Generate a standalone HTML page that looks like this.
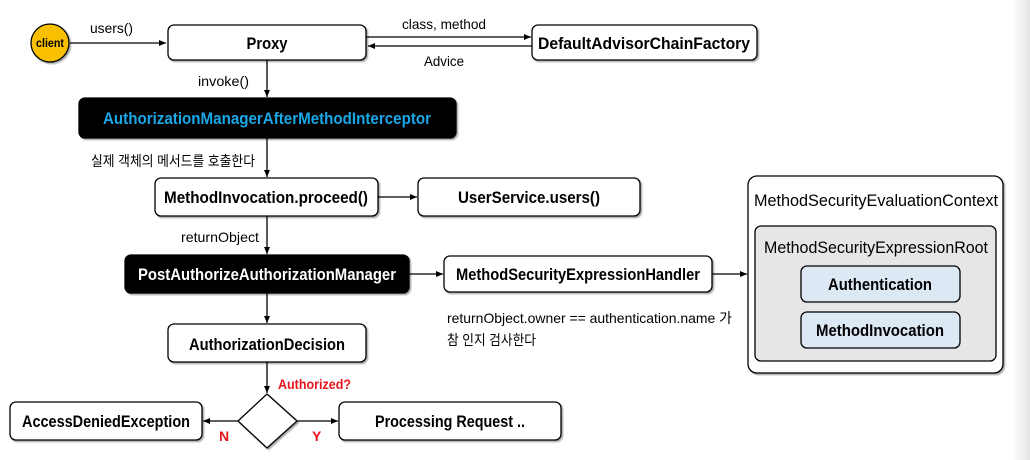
<!DOCTYPE html>
<html><head><meta charset="utf-8"><style>
html,body{margin:0;padding:0;background:#fff;width:1030px;height:460px;overflow:hidden}
text{font-family:"Liberation Sans","Noto Sans CJK KR",sans-serif}
</style></head><body>
<svg width="1030" height="460" viewBox="0 0 1030 460" xmlns="http://www.w3.org/2000/svg">
<defs>
<linearGradient id="edge" x1="0" x2="1"><stop offset="0" stop-color="#fff"/><stop offset="1" stop-color="#e4e4e4"/></linearGradient>
<marker id="a" markerWidth="8" markerHeight="8" refX="7" refY="4" orient="auto" markerUnits="userSpaceOnUse"><path d="M0,1 L7,4 L0,7z" fill="#000"/></marker>
<filter id="s" x="-5%" y="-10%" width="115%" height="130%"><feDropShadow dx="1.5" dy="1.5" stdDeviation="0.8" flood-color="#000" flood-opacity="0.35"/></filter>
</defs>
<rect x="1012" y="0" width="18" height="460" fill="url(#edge)"/>
<g stroke="#000" stroke-width="1.3" fill="none">
<line x1="70" y1="43" x2="166" y2="43" marker-end="url(#a)"/>
<line x1="366" y1="37" x2="531" y2="37" marker-end="url(#a)"/>
<line x1="532" y1="46" x2="368" y2="46" marker-end="url(#a)"/>
<line x1="267" y1="60" x2="267" y2="97" marker-end="url(#a)"/>
<line x1="267" y1="138" x2="267" y2="177" marker-end="url(#a)"/>
<line x1="378" y1="197" x2="417" y2="197" marker-end="url(#a)"/>
<line x1="267" y1="216" x2="267" y2="254" marker-end="url(#a)"/>
<line x1="409" y1="274" x2="443" y2="274" marker-end="url(#a)"/>
<line x1="712" y1="274" x2="747" y2="274" marker-end="url(#a)"/>
<line x1="267" y1="293" x2="267" y2="323" marker-end="url(#a)"/>
<line x1="267" y1="362" x2="267" y2="393" marker-end="url(#a)"/>
<line x1="238" y1="421" x2="203" y2="421" marker-end="url(#a)"/>
<line x1="297" y1="421" x2="338" y2="421" marker-end="url(#a)"/>
</g>
<g filter="url(#s)" stroke="#000" stroke-width="1.3">
<circle cx="50" cy="43" r="19" fill="#f8c000"/>
<rect x="168" y="25" width="198" height="35" rx="6" fill="#fff"/>
<rect x="532" y="25" width="225" height="35" rx="6" fill="#fff"/>
<rect x="79" y="98" width="377" height="40" rx="6" fill="#000"/>
<rect x="155" y="178" width="223" height="38" rx="6" fill="#fff"/>
<rect x="418" y="178" width="222" height="38" rx="6" fill="#fff"/>
<rect x="125" y="255" width="284" height="38" rx="6" fill="#000"/>
<rect x="444" y="256" width="268" height="36" rx="6" fill="#fff"/>
<rect x="748" y="176" width="255" height="197" rx="9" fill="#fff"/>
<rect x="755" y="226" width="241" height="135" rx="6" fill="#e6e6e6"/>
<rect x="801" y="266" width="159" height="36" rx="6" fill="#dde8f5"/>
<rect x="801" y="312" width="159" height="36" rx="6" fill="#dde8f5"/>
<rect x="168" y="324" width="198" height="38" rx="6" fill="#fff"/>
<path d="M267,394 L297,421 L267,448 L238,421z" fill="#fff"/>
<rect x="10" y="402" width="192" height="38" rx="6" fill="#fff"/>
<rect x="339" y="402" width="222" height="38" rx="6" fill="#fff"/>
</g>
<g font-size="17" font-weight="bold" text-anchor="middle" fill="#000">
<text x="50" y="47" font-size="12" textLength="28" lengthAdjust="spacingAndGlyphs">client</text>
<text x="267" y="49" textLength="41" lengthAdjust="spacingAndGlyphs">Proxy</text>
<text x="644" y="49" textLength="212" lengthAdjust="spacingAndGlyphs">DefaultAdvisorChainFactory</text>
<text x="267" y="124" fill="#1aa7e8" textLength="328" lengthAdjust="spacingAndGlyphs">AuthorizationManagerAfterMethodInterceptor</text>
<text x="266" y="203" textLength="204" lengthAdjust="spacingAndGlyphs">MethodInvocation.proceed()</text>
<text x="529" y="203" textLength="142" lengthAdjust="spacingAndGlyphs">UserService.users()</text>
<text x="267" y="280" fill="#fff" textLength="258" lengthAdjust="spacingAndGlyphs">PostAuthorizeAuthorizationManager</text>
<text x="578" y="280" textLength="244" lengthAdjust="spacingAndGlyphs">MethodSecurityExpressionHandler</text>
<text x="876" y="206" font-size="17" font-weight="normal" textLength="244" lengthAdjust="spacingAndGlyphs">MethodSecurityEvaluationContext</text>
<text x="876" y="253" font-size="17" font-weight="normal" textLength="224" lengthAdjust="spacingAndGlyphs">MethodSecurityExpressionRoot</text>
<text x="880" y="290" textLength="104" lengthAdjust="spacingAndGlyphs">Authentication</text>
<text x="880" y="336" textLength="128" lengthAdjust="spacingAndGlyphs">MethodInvocation</text>
<text x="267" y="350" textLength="156" lengthAdjust="spacingAndGlyphs">AuthorizationDecision</text>
<text x="106" y="427" textLength="168" lengthAdjust="spacingAndGlyphs">AccessDeniedException</text>
<text x="450" y="427" textLength="150" lengthAdjust="spacingAndGlyphs">Processing Request ..</text>
</g>
<g font-size="14" fill="#000">
<text x="90" y="33" textLength="43" lengthAdjust="spacingAndGlyphs">users()</text>
<text x="402" y="29" textLength="84" lengthAdjust="spacingAndGlyphs">class, method</text>
<text x="424" y="66" textLength="40" lengthAdjust="spacingAndGlyphs">Advice</text>
<text x="198" y="86" textLength="51" lengthAdjust="spacingAndGlyphs">invoke()</text>
<text x="91" y="166" textLength="164" lengthAdjust="spacingAndGlyphs">실제 객체의 메서드를 호출한다</text>
<text x="181" y="242" textLength="78" lengthAdjust="spacingAndGlyphs">returnObject</text>
<text x="447" y="323" textLength="285" lengthAdjust="spacingAndGlyphs">returnObject.owner == authentication.name 가</text>
<text x="447" y="345" textLength="89" lengthAdjust="spacingAndGlyphs">참 인지 검사한다</text>
</g>
<g font-size="14" font-weight="bold" fill="#e8141c">
<text x="278" y="389" textLength="73" lengthAdjust="spacingAndGlyphs">Authorized?</text>
<text x="219" y="441">N</text>
<text x="312" y="441">Y</text>
</g>
</svg>
</body></html>
